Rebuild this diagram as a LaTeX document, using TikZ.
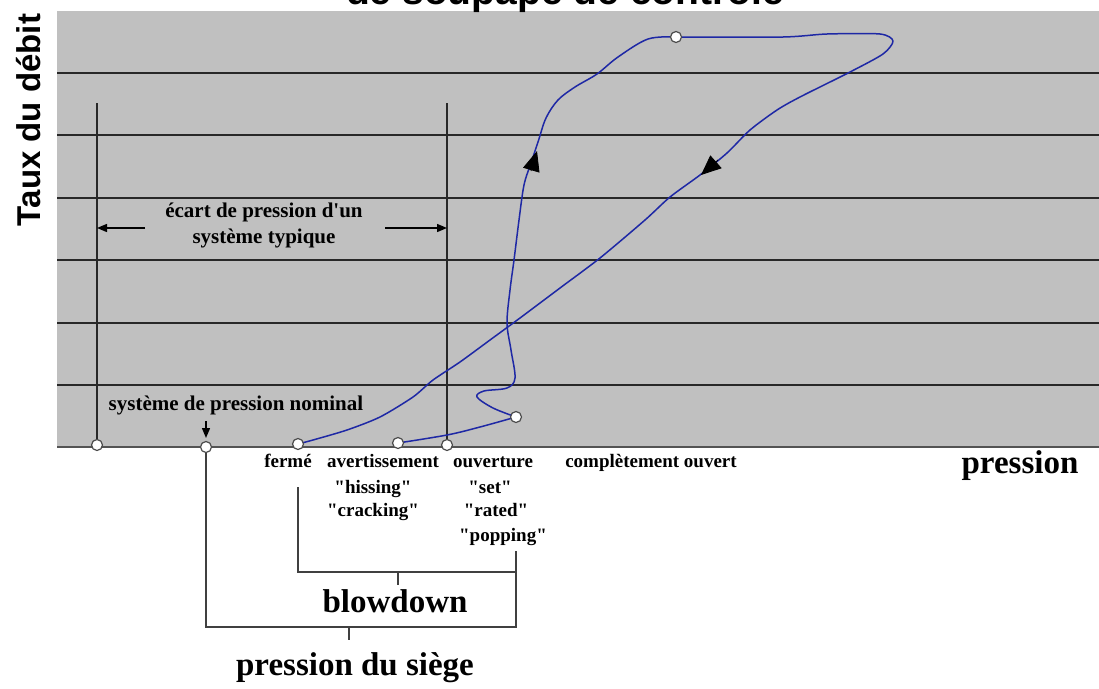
\documentclass[tikz,border=0pt]{standalone}
\usepackage{fontspec}
\setmainfont{Liberation Serif}
\newfontfamily\sansf{Liberation Sans}
\usetikzlibrary{arrows.meta}
\definecolor{panel}{RGB}{192,192,192}
\definecolor{gridc}{RGB}{40,40,40}
\definecolor{curvec}{RGB}{30,40,165}
\newcommand{\dq}{\textquotedbl}
\begin{document}
\begin{tikzpicture}[x=1pt,y=-1pt,
  gridline/.style={draw=gridc, line width=1.6pt},
  valvept/.style={circle, draw=black!70, fill=white, line width=1.2pt, inner sep=0pt, minimum size=11pt},
  flow/.style={draw=curvec, line width=1.5pt, line join=round},
  bracketline/.style={draw=black!75, line width=1.5pt},
  lbl/.style={font=\bfseries\fontsize{19}{22}\selectfont, anchor=base, inner sep=0pt},
  lblb/.style={font=\bfseries\fontsize{21}{24}\selectfont, anchor=base, inner sep=0pt},
  big/.style={font=\bfseries\fontsize{33}{38}\selectfont, anchor=base, inner sep=0pt},
  dirarrow/.style={-{Triangle[length=20pt,width=17pt]}, draw=black, line width=0.8pt},
  smallarrow/.style={-{Triangle[length=10pt,width=8pt]}, draw=black, line width=1.4pt}
]
\useasboundingbox (0,0) rectangle (1099,688);
\fill[white] (0,0) rectangle (1099,688);
% panel
\fill[panel] (57,11) rectangle (1099,447);
\foreach \yy in {73,135,198,260,323,385} \draw[gridline] (57,\yy) -- (1099,\yy);
\draw[draw=gridc!80, line width=1.2pt] (57,447) -- (1099,447);
% title (cut off)
\node[font=\sansf\bfseries\fontsize{39}{44}\selectfont, anchor=base, inner sep=0pt] (title) at (565,5) {de soupape de contrôle};
% axis labels
\node[font=\sansf\bfseries\fontsize{33}{38}\selectfont, rotate=90, anchor=base, inner sep=0pt] (ylab) at (40,120) {Taux du débit};
\node[big] (xlab) at (1020,473) {pression};
% key points
\coordinate (p1) at (97,445);
\coordinate (p2) at (206,447);
\coordinate (p3) at (298,444);
\coordinate (p4) at (398,443);
\coordinate (p5) at (447,445);
\coordinate (p6) at (516,417);
\coordinate (p7) at (676,37);
\coordinate (t1) at (97,103);
\coordinate (t5) at (447,103);
% typical range lines
\draw[gridline] (t1) -- (p1);
\draw[gridline] (t5) -- (p5);
\coordinate (la) at (145,228);
\coordinate (ra) at (385,228);
\draw[smallarrow] (la) -- (t1 |- la);
\draw[smallarrow] (ra) -- (t5 |- ra);
\node[lblb] (ecart1) at (264,217) {écart de pression d\textquotesingle un};
\node[lblb] (ecart2) at (264,243) {système typique};
\node[lblb] (nominal) at (236,410) {système de pression nominal};
\coordinate (na) at (206,421);
\draw[smallarrow] (na) -- (206,438);
% flow curve
\draw[flow] plot[smooth, tension=0.55] coordinates {(p4) (447,435) (480,427) (p6)};
\draw[flow] plot[smooth, tension=0.55] coordinates {(p6) (493,408) (477,397) (484,391) (507,388) (515,378) (511,350) (507,323) (510,290) (514,260) (519,220) (524,185) (531,163) (538,142) (546,118) (558,100) (575,87) (597,74) (618,57) (648,39) (p7)};
\draw[flow] plot[smooth, tension=0.45] coordinates {(p7) (783,37) (827,34) (880,34) (893,41) (883,54) (850,72) (800,97) (777,110) (750,130) (727,153) (700,175) (670,197) (645,220) (600,258) (560,288) (520,318) (490,340) (460,362) (433,380) (413,397) (380,417) (347,430) (313,440) (p3)};
% direction arrows
\draw[dirarrow] (531,171) -- (537,151);
\draw[dirarrow] (718,160) -- (701,175);
% points
\node[valvept] (c1) at (p1) {};
\node[valvept] (c2) at (p2) {};
\node[valvept] (c3) at (p3) {};
\node[valvept] (c4) at (p4) {};
\node[valvept] (c5) at (p5) {};
\node[valvept] (c6) at (p6) {};
\node[valvept] (c7) at (p7) {};
% labels under axis
\node[lbl] (ferme) at (288,467) {fermé};
\node[lbl] (avert) at (383,467) {avertissement};
\node[lbl] (hiss) at (373,493) {\dq hissing\dq};
\node[lbl] (crack) at (373,516) {\dq cracking\dq};
\node[lbl] (ouv) at (493,467) {ouverture};
\node[lbl] (set) at (490,493) {\dq set\dq};
\node[lbl] (rated) at (496,516) {\dq rated\dq};
\node[lbl] (popping) at (503,541) {\dq popping\dq};
\node[lbl] (comp) at (651,467) {complètement ouvert};
% brackets
\coordinate (bl) at (298,487);
\coordinate (br) at (516,551);
\draw[bracketline] (bl) -- (298,572) -- (516,572);
\draw[bracketline] (br) -- (516,627) -- (206,627) -- (c2.south);
\draw[bracketline] (398,572) -- (398,585);
\draw[bracketline] (349,627) -- (349,640);
\node[big] (blow) at (395,612) {blowdown};
\node[big] (seat) at (355,675) {pression du siège};
\end{tikzpicture}
\end{document}
